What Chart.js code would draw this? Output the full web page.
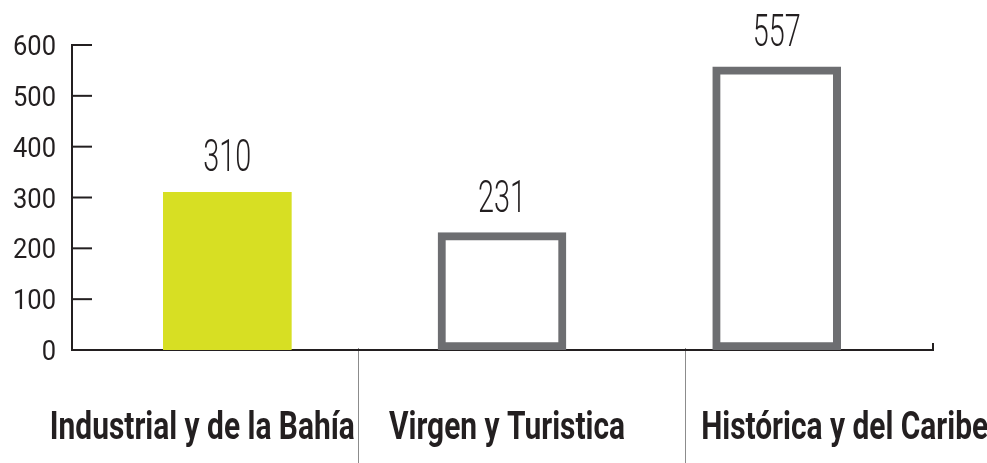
<!DOCTYPE html>
<html>
<head>
<meta charset="utf-8">
<script src="https://cdn.jsdelivr.net/npm/chart.js@4/dist/chart.umd.min.js"></script>
<style>
html,body{margin:0;padding:0;background:#ffffff;}
#c{display:block;}
</style>
</head>
<body>
<canvas id="c" width="987" height="463"></canvas>
<script>
const categories = ['Industrial y de la Bahía', 'Virgen y Turistica', 'Histórica y del Caribe'];
const values = [310, 231, 557];
const yTickValues = [0, 100, 200, 300, 400, 500, 600];

const INK = '#231f20';
const GREY = '#6d6e71';
const LIME = '#d7df23';

function condensedText(ctx, text, x, y, sx) {
  ctx.save();
  ctx.translate(x, y);
  ctx.scale(sx, 1);
  ctx.fillText(text, 0, 0);
  ctx.restore();
}

const overlay = {
  id: 'overlay',
  beforeDatasetsDraw(chart) {
    const ctx = chart.ctx;
    const y = chart.scales.y;
    const x = chart.scales.x;
    const ca = chart.chartArea;
    const axisX = ca.left - 18;
    const baseY = y.getPixelForValue(0);
    ctx.save();
    // separators
    ctx.strokeStyle = '#8c8c8c';
    ctx.lineWidth = 1;
    [358.5, 685.5].forEach(sx => {
      ctx.beginPath();
      ctx.moveTo(sx, baseY - 2);
      ctx.lineTo(sx, chart.height);
      ctx.stroke();
    });
    // axis lines
    ctx.strokeStyle = INK;
    ctx.lineWidth = 2;
    ctx.beginPath();
    ctx.moveTo(axisX, y.getPixelForValue(600) - 1);
    ctx.lineTo(axisX, baseY);
    ctx.lineTo(ca.right + 19, baseY);
    ctx.lineTo(ca.right + 19, baseY - 7);
    ctx.stroke();
    // ticks and labels
    ctx.fillStyle = INK;
    ctx.font = '400 27px Roboto, "DejaVu Sans Condensed", sans-serif';
    ctx.textAlign = 'right';
    ctx.textBaseline = 'alphabetic';
    const tsx = 43 / ctx.measureText('600').width;
    yTickValues.forEach(v => {
      const py = y.getPixelForValue(v);
      if (v > 0) {
        ctx.beginPath();
        ctx.moveTo(axisX, py);
        ctx.lineTo(axisX + 20, py);
        ctx.stroke();
      }
      condensedText(ctx, String(v), axisX - 16, py + 10, tsx);
    });
    // category labels
    ctx.font = 'bold 38px Roboto, "DejaVu Sans Condensed", sans-serif';
    ctx.textAlign = 'center';
    const csx = 305 / ctx.measureText(categories[0]).width;
    const offs = [-25, 5, 68];
    categories.forEach((c, i) => {
      condensedText(ctx, c, x.getPixelForValue(i) + offs[i], 439, csx);
    });
    ctx.restore();
  },
  afterDatasetsDraw(chart) {
    const ctx = chart.ctx;
    const meta = chart.getDatasetMeta(0);
    ctx.save();
    ctx.fillStyle = INK;
    ctx.font = '300 44px Roboto, "DejaVu Sans Condensed", sans-serif';
    ctx.textAlign = 'center';
    ctx.textBaseline = 'alphabetic';
    const vsx = 48 / ctx.measureText('310').width;
    meta.data.forEach((bar, i) => {
      condensedText(ctx, String(values[i]), bar.x, bar.y - 21, vsx);
    });
    ctx.restore();
  }
};

new Chart(document.getElementById('c'), {
  type: 'bar',
  data: {
    labels: categories,
    datasets: [{
      data: values,
      backgroundColor: [LIME, '#ffffff', '#ffffff'],
      borderColor: [LIME, GREY, GREY],
      borderWidth: [0, 8, 8],
      borderSkipped: false,
      barThickness: 128
    }]
  },
  options: {
    responsive: false,
    animation: false,
    devicePixelRatio: 1,
    layout: { padding: { left: 90, right: 73, top: 45, bottom: 113 } },
    plugins: { legend: { display: false }, tooltip: { enabled: false } },
    scales: {
      x: { display: false, offset: true },
      y: { display: false, min: 0, max: 600 }
    }
  },
  plugins: [overlay]
});
</script>
</body>
</html>
